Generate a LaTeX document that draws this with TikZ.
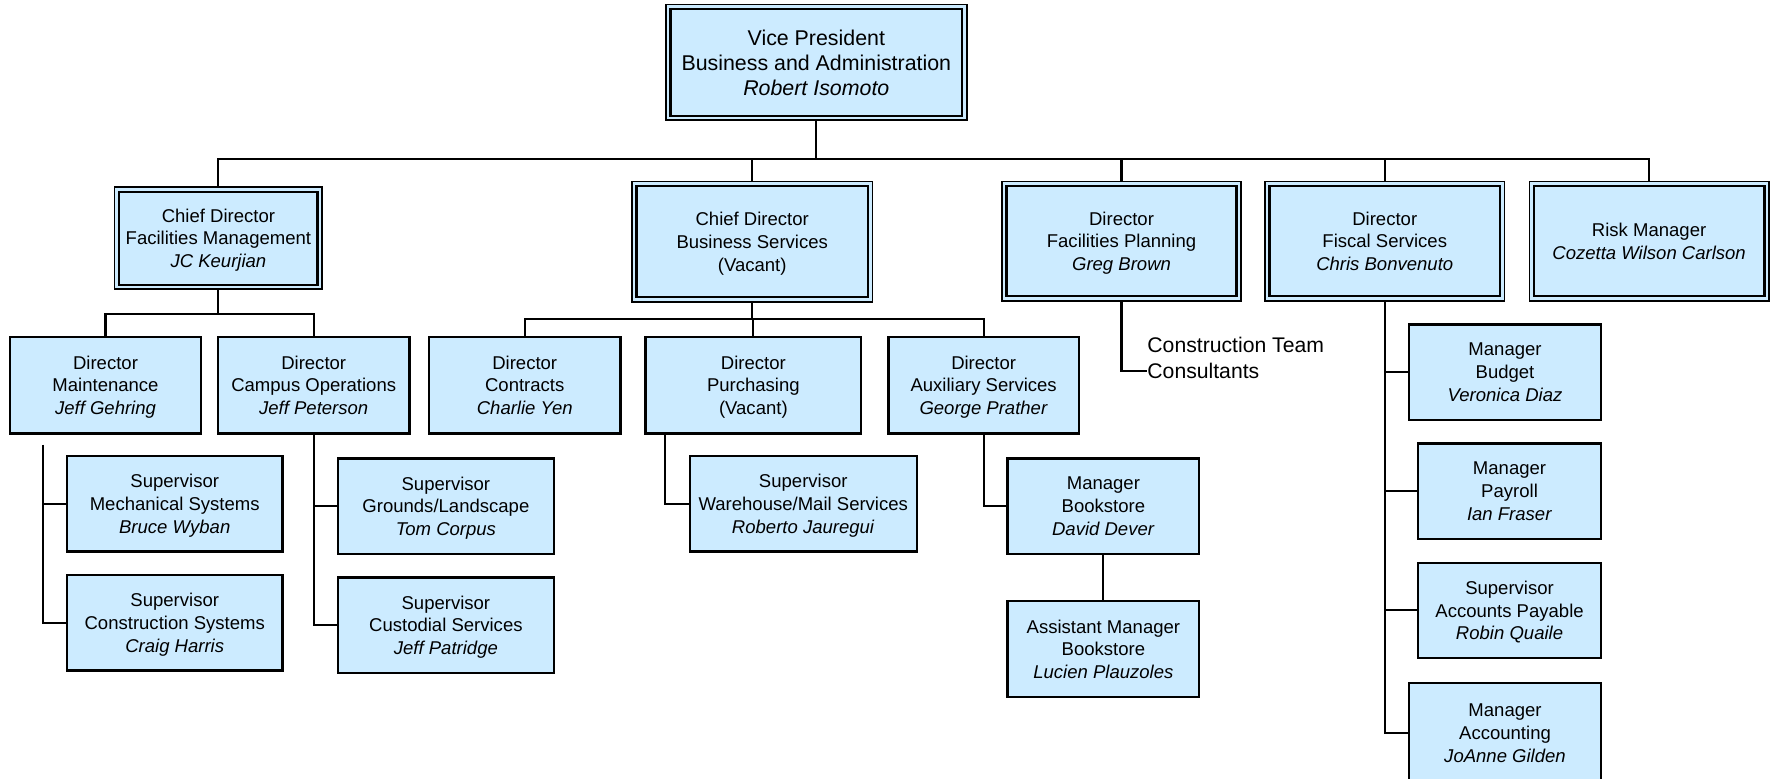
\documentclass[tikz,border=0pt]{standalone}
\usepackage{fontspec}
\setmainfont{Liberation Sans}
\usetikzlibrary{calc}
\definecolor{boxblue}{RGB}{204,235,255}
\begin{document}
\begin{tikzpicture}[x=0.6pt,y=-0.6pt,
  sz/.style 2 args={minimum width={#1*0.6pt}, minimum height={#2*0.6pt}},
  box/.style={rectangle, draw=black, line width=1.2pt, fill=boxblue, inner sep=0pt,
    text depth=0pt, align=center, font=\fontsize{9.8}{12}\selectfont},
  dbox/.style={box, line width=0.9pt,
    path picture={\draw[line width=1.3pt]
      ([shift={(2.4pt,2.4pt)}]path picture bounding box.south west) rectangle
      ([shift={(-2.4pt,-2.4pt)}]path picture bounding box.north east);}},
  link/.style={line width=1.1pt},
  note/.style={inner sep=0pt, anchor=west, font=\fontsize{11.2}{13.8}\selectfont},
]
\useasboundingbox (0,0) rectangle (1568,686);

% top
\node[dbox, sz={265}{102}, font=\fontsize{11.3}{13.2}\selectfont] (vp) at (719.5,55)
  {Vice President\\Business and Administration\\\textit{Robert Isomoto}};

% second level
\node[dbox, sz={183}{90}] (fm) at (192.5,210)
  {Chief Director\\Facilities Management\\\textit{JC Keurjian}};
\node[dbox, sz={212}{106}] (bs) at (663,213)
  {Chief Director\\Business Services\\(Vacant)};
\node[dbox, sz={211}{105}] (fp) at (988.5,212.5)
  {Director\\Facilities Planning\\\textit{Greg Brown}};
\node[dbox, sz={211}{105}] (fs) at (1220.5,212.5)
  {Director\\Fiscal Services\\\textit{Chris Bonvenuto}};
\node[dbox, sz={211}{105}] (rm) at (1453.5,212.5)
  {Risk Manager\\\textit{Cozetta Wilson Carlson}};

% third level
\node[box, sz={168}{85}] (mt) at (93,339.5)
  {Director\\Maintenance\\\textit{Jeff Gehring}};
\node[box, sz={169}{85}] (co) at (276.5,339.5)
  {Director\\Campus Operations\\\textit{Jeff Peterson}};
\node[box, sz={169}{85}] (ct) at (462.5,339.5)
  {Director\\Contracts\\\textit{Charlie Yen}};
\node[box, sz={190}{85}] (pu) at (664,339.5)
  {Director\\Purchasing\\(Vacant)};
\node[box, sz={168}{85}] (ax) at (867,339.5)
  {Director\\Auxiliary Services\\\textit{George Prather}};

% fourth level
\node[box, sz={190}{84}] (ms) at (154,444)
  {Supervisor\\Mechanical Systems\\\textit{Bruce Wyban}};
\node[box, sz={190}{84}] (cs) at (154,549)
  {Supervisor\\Construction Systems\\\textit{Craig Harris}};
\node[box, sz={190}{84}] (gl) at (393,446)
  {Supervisor\\Grounds/Landscape\\\textit{Tom Corpus}};
\node[box, sz={190}{84}] (cu) at (393,551)
  {Supervisor\\Custodial Services\\\textit{Jeff Patridge}};
\node[box, sz={200}{84}] (wm) at (708,444)
  {Supervisor\\Warehouse/Mail Services\\\textit{Roberto Jauregui}};
\node[box, sz={169}{84}] (bk) at (972.5,446)
  {Manager\\Bookstore\\\textit{David Dever}};
\node[box, sz={169}{84}] (ab) at (972.5,572)
  {Assistant Manager\\Bookstore\\\textit{Lucien Plauzoles}};
\node[box, sz={169}{84}] (bu) at (1326.5,328)
  {Manager\\Budget\\\textit{Veronica Diaz}};
\node[box, sz={161}{84}] (pa) at (1330.5,433)
  {Manager\\Payroll\\\textit{Ian Fraser}};
\node[box, sz={161}{84}] (ap) at (1330.5,538)
  {Supervisor\\Accounts Payable\\\textit{Robin Quaile}};
\node[box, sz={169}{88}] (ac) at (1326.5,646)
  {Manager\\Accounting\\\textit{JoAnne Gilden}};

% consultants
\node[note] (ctm) at (1011,304) {Construction Team};
\node[note] (csl) at (1011,327) {Consultants};

% connectors
\coordinate (top) at (719.5,140);
\draw[link] (vp.south) -- (top);
\foreach \n in {fm,bs,fp,fs,rm} \draw[link] (top) -| (\n.north);

\coordinate (fmbus) at (192.5,277);
\draw[link] (fm.south) -- (fmbus);
\foreach \n in {mt,co} \draw[link] (fmbus) -| (\n.north);

\coordinate (bsbus) at (663,281);
\draw[link] (bs.south) -- (bsbus);
\foreach \n in {ct,pu,ax} \draw[link] (bsbus) -| (\n.north);

\coordinate (mtrail) at (38,392);
\foreach \n in {ms,cs} \draw[link] (mtrail) |- (\n.west);
\foreach \n in {gl,cu} \draw[link] (co.south) |- (\n.west);
\draw[link] ($(pu.south west)+(18,0)$) |- (wm.west);
\draw[link] (ax.south) |- (bk.west);
\draw[link] (bk.south) -- (ab.north);
\draw[link] (fp.south) |- (csl.west);
\foreach \n in {bu,pa,ap,ac} \draw[link] (fs.south) |- (\n.west);
\end{tikzpicture}
\end{document}
